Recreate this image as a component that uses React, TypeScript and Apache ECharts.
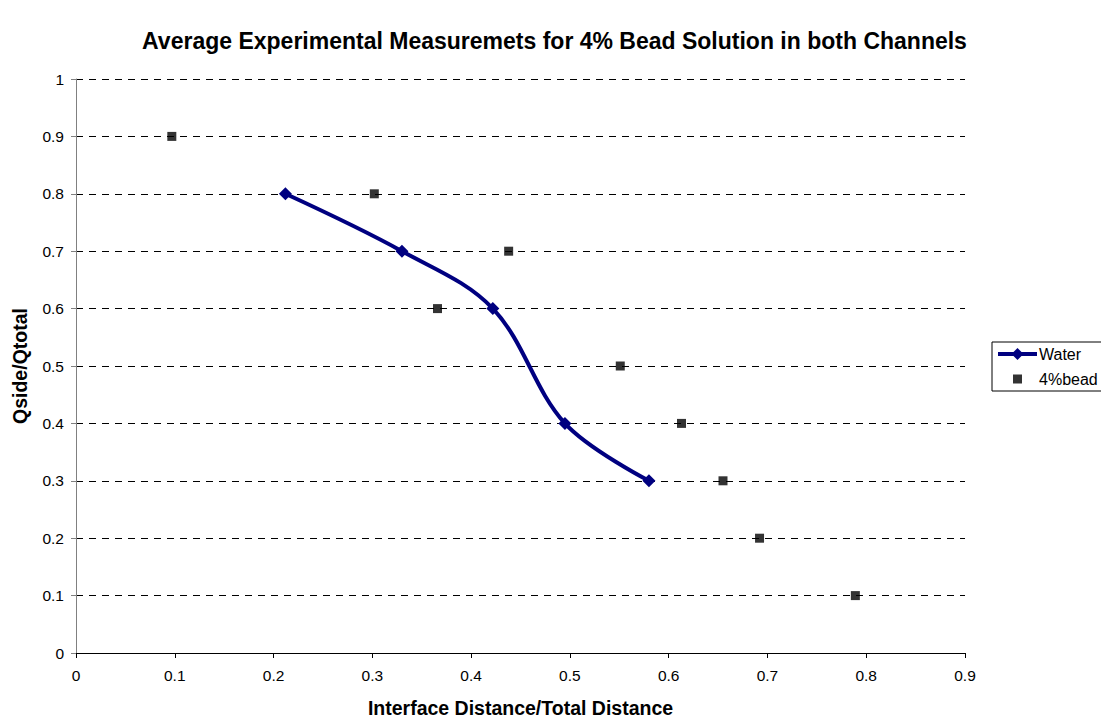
import React, { useEffect, useRef } from "react";
import * as echarts from "echarts";

const titleText = "Average Experimental Measuremets for 4% Bead Solution in both Channels";
const xName = "Interface Distance/Total Distance";
const yName = "Qside/Qtotal";

const waterX = [0.212, 0.33, 0.422, 0.495, 0.58];
const waterY = [0.8, 0.7, 0.6, 0.4, 0.3];

const beadX = [0.097, 0.302, 0.366, 0.438, 0.551, 0.613, 0.655, 0.692, 0.789];
const beadY = [0.9, 0.8, 0.6, 0.7, 0.5, 0.4, 0.3, 0.2, 0.1];

const FONT = "'Liberation Sans', Arial, sans-serif";
const squareIcon = "path://M0,0h0.001v0.001h-0.001z M15,15h-0.001v-0.001h0.001z M3,3h9v9h-9z";

export default function App() {
  const ref = useRef<HTMLDivElement>(null);
  useEffect(() => {
    if (!ref.current) return;
    const chart = echarts.init(ref.current, null, { renderer: "svg" });
    chart.setOption({
      animation: false,
      backgroundColor: "#ffffff",
      title: {
        text: titleText,
        left: "center",
        top: 24,
        textStyle: { fontFamily: FONT, fontSize: 23, fontWeight: "bold", color: "#000" },
      },
      grid: { left: 76, right: 144, top: 79, bottom: 69, containLabel: false },
      legend: {
        orient: "vertical",
        left: 992,
        top: 342,
        padding: [4, 9, 4, 4],
        itemGap: 9,
        itemWidth: 39,
        itemHeight: 15,
        borderColor: "#000",
        borderWidth: 1,
        borderRadius: 0,
        textStyle: { fontFamily: FONT, fontSize: 16, color: "#000", padding: [0, 0, 0, -3] },
        data: [
          { name: "Water", lineStyle: { width: 4, color: "#000080" } },
          { name: "4%bead", icon: squareIcon, itemStyle: { color: "#000" } },
        ],
      },
      xAxis: {
        type: "value",
        min: 0,
        max: 0.9,
        interval: 0.1,
        name: xName,
        nameLocation: "middle",
        nameGap: 45,
        nameTextStyle: { fontFamily: FONT, fontSize: 19.5, fontWeight: "bold", color: "#000" },
        axisLine: { show: true, onZero: false, lineStyle: { color: "#000", width: 1 } },
        axisTick: { show: true, inside: false, length: 5, lineStyle: { color: "#000" } },
        axisLabel: { fontFamily: FONT, fontSize: 15.5, color: "#000", margin: 14 },
        splitLine: { show: false },
      },
      yAxis: {
        type: "value",
        min: 0,
        max: 1,
        interval: 0.1,
        name: yName,
        nameLocation: "middle",
        nameGap: 46,
        nameTextStyle: { fontFamily: FONT, fontSize: 19.5, fontWeight: "bold", color: "#000" },
        axisLine: { show: true, lineStyle: { color: "#808080", width: 1 } },
        axisTick: { show: true, inside: false, length: 5, lineStyle: { color: "#808080" } },
        axisLabel: { fontFamily: FONT, fontSize: 15.5, color: "#000", margin: 12 },
        splitLine: { show: true, lineStyle: { color: "#000", width: 1, type: [7, 6] } },
      },
      series: [
        {
          name: "Water",
          type: "line",
          data: waterX.map((x, i) => [x, waterY[i]]),
          smooth: 0.35,
          symbol: "diamond",
          symbolSize: 13,
          itemStyle: { color: "#000080" },
          lineStyle: { color: "#000080", width: 4 },
          z: 3,
        },
        {
          name: "4%bead",
          type: "scatter",
          data: beadX.map((x, i) => [x, beadY[i]]),
          symbol: "rect",
          symbolSize: 9,
          itemStyle: { color: "#000" },
          z: 4,
        },
      ],
    });
    return () => chart.dispose();
  }, []);
  return <div ref={ref} style={{ width: 1109, height: 723, margin: -8 }} />;
}
